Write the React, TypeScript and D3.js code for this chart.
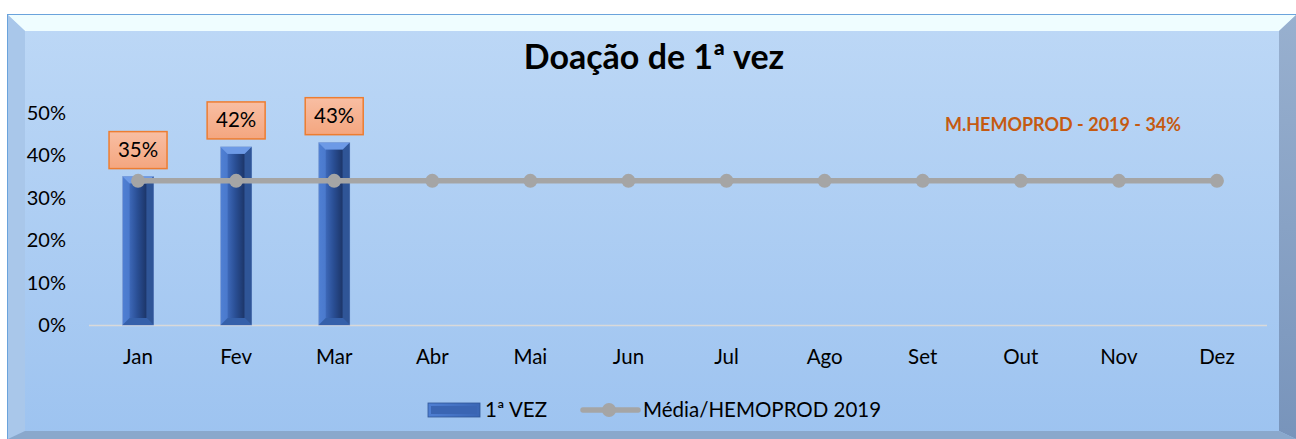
import { useEffect, useRef } from 'react'
import * as d3 from 'd3'

const months = ['Jan', 'Fev', 'Mar', 'Abr', 'Mai', 'Jun', 'Jul', 'Ago', 'Set', 'Out', 'Nov', 'Dez']
const firstTime = [35, 42, 43]
const hemoprodAvg = [34, 34, 34, 34, 34, 34, 34, 34, 34, 34, 34, 34]
const yTicks = [0, 10, 20, 30, 40, 50]

const W = 1296
const H = 439
const FONT = 'Lato, "Open Sans", sans-serif'

const App = () => {
  const svgRef = useRef<SVGSVGElement>(null)

  useEffect(() => {
    if (!svgRef.current) return
    const svg = d3.select(svgRef.current)
    svg.selectAll('*').remove()

    const defs = svg.append('defs')
    const face = defs.append('linearGradient').attr('id', 'face').attr('x1', 0).attr('y1', 0).attr('x2', 0).attr('y2', 1)
    face.append('stop').attr('offset', '0%').attr('stop-color', '#bdd8f6')
    face.append('stop').attr('offset', '100%').attr('stop-color', '#9dc3f0')

    const rightG = defs.append('linearGradient').attr('id', 'rightBev').attr('x1', 0).attr('y1', 0).attr('x2', 0).attr('y2', 1)
    rightG.append('stop').attr('offset', '0%').attr('stop-color', '#98b0cf')
    rightG.append('stop').attr('offset', '100%').attr('stop-color', '#7894bb')

    const barOuter = defs.append('linearGradient').attr('id', 'barOuter').attr('x1', 0).attr('y1', 0).attr('x2', 1).attr('y2', 0)
    barOuter.append('stop').attr('offset', '0%').attr('stop-color', '#4f7fd3')
    barOuter.append('stop').attr('offset', '100%').attr('stop-color', '#3a66b5')

    const barInner = defs.append('linearGradient').attr('id', 'barInner').attr('x1', 0).attr('y1', 0).attr('x2', 1).attr('y2', 0)
    barInner.append('stop').attr('offset', '0%').attr('stop-color', '#3d68b8')
    barInner.append('stop').attr('offset', '45%').attr('stop-color', '#2a4f95')
    barInner.append('stop').attr('offset', '100%').attr('stop-color', '#1c3568')

    const labelG = defs.append('linearGradient').attr('id', 'lbl').attr('x1', 0).attr('y1', 0).attr('x2', 0).attr('y2', 1)
    labelG.append('stop').attr('offset', '0%').attr('stop-color', '#f8bea3')
    labelG.append('stop').attr('offset', '100%').attr('stop-color', '#f4a67f')

    // frame with bevel
    svg.append('rect').attr('x', 0).attr('y', 0).attr('width', W).attr('height', H).attr('fill', '#ffffff')
    svg.append('rect').attr('x', 7.5).attr('y', 14.5).attr('width', W - 7).attr('height', H - 14)
      .attr('fill', 'url(#face)').attr('stroke', '#6aa3dc').attr('stroke-width', 1)
    const poly = (pts: number[][], fill: string) =>
      svg.append('polygon').attr('points', pts.map(p => p.join(',')).join(' ')).attr('fill', fill)
    poly([[8, 15], [1296, 15], [1279, 31], [25, 31]], '#effdff')
    poly([[8, 15], [25, 31], [25, 431], [8, 439]], '#a9c7ea')
    poly([[1296, 15], [1279, 31], [1279, 431], [1296, 439]], 'url(#rightBev)')
    poly([[8, 439], [25, 431], [1279, 431], [1296, 439]], '#8aa8cc')

    const x = d3.scaleBand().domain(months).range([89, 1266])
    const y = d3.scaleLinear().domain([0, 50]).range([325, 113])
    const cx = (m: string) => (x(m) ?? 0) + x.bandwidth() / 2

    // title
    svg.append('text').attr('x', 654).attr('y', 69).attr('text-anchor', 'middle')
      .attr('font-family', FONT).attr('font-weight', 'bold').attr('font-size', 34).attr('fill', '#000')
      .text('Doação de 1ª vez')

    // y axis labels
    svg.append('g').selectAll('text').data(yTicks).join('text')
      .attr('x', 66).attr('y', d => y(d) + 7).attr('text-anchor', 'end')
      .attr('font-family', FONT).attr('font-size', 20).attr('fill', '#000')
      .text(d => `${d}%`)

    // baseline
    svg.append('line').attr('x1', 89).attr('x2', 1267).attr('y1', 325.5).attr('y2', 325.5)
      .attr('stroke', '#d9d9d9').attr('stroke-width', 1.5)

    // month labels
    svg.append('g').selectAll('text').data(months).join('text')
      .attr('x', d => cx(d)).attr('y', 364).attr('text-anchor', 'middle')
      .attr('font-family', FONT).attr('font-size', 20.5).attr('fill', '#000')
      .text(d => d)

    // bars
    const bw = 31
    const bars = svg.append('g').selectAll('g').data(firstTime).join('g')
    bars.each(function (v, i) {
      const g = d3.select(this)
      const x0 = cx(months[i]) - bw / 2
      const top = y(v)
      const bot = y(0)
      const inset = 7
      g.append('rect').attr('x', x0).attr('y', top).attr('width', bw).attr('height', bot - top)
        .attr('fill', 'url(#barOuter)').attr('stroke', '#7f9fd6').attr('stroke-width', 0.8)
      // top bevel highlight
      g.append('polygon').attr('points', [[x0, top], [x0 + bw, top], [x0 + bw - inset, top + inset], [x0 + inset, top + inset]].map(p => p.join(',')).join(' '))
        .attr('fill', '#6d9ae6')
      // right bevel shade
      g.append('polygon').attr('points', [[x0 + bw, top], [x0 + bw, bot], [x0 + bw - inset, bot - inset], [x0 + bw - inset, top + inset]].map(p => p.join(',')).join(' '))
        .attr('fill', '#2f5597')
      // bottom bevel
      g.append('polygon').attr('points', [[x0, bot], [x0 + bw, bot], [x0 + bw - inset, bot - inset], [x0 + inset, bot - inset]].map(p => p.join(',')).join(' '))
        .attr('fill', '#3560aa')
      g.append('rect').attr('x', x0 + inset).attr('y', top + inset).attr('width', bw - 2 * inset).attr('height', bot - top - 2 * inset)
        .attr('fill', 'url(#barInner)')
    })

    // average line
    const line = d3.line<number>().x((_, i) => cx(months[i])).y(d => y(d))
    svg.append('path').datum(hemoprodAvg).attr('d', line).attr('fill', 'none')
      .attr('stroke', '#a5a5a5').attr('stroke-width', 5.5)
    svg.append('g').selectAll('circle').data(hemoprodAvg).join('circle')
      .attr('cx', (_, i) => cx(months[i])).attr('cy', d => y(d)).attr('r', 7).attr('fill', '#a5a5a5')

    // data labels
    const lw = 58
    const lh = 37
    const labels = svg.append('g').selectAll('g').data(firstTime).join('g')
    labels.append('rect')
      .attr('x', (_, i) => cx(months[i]) - lw / 2).attr('y', d => y(d) - 8 - lh)
      .attr('width', lw).attr('height', lh).attr('fill', 'url(#lbl)').attr('stroke', '#ed7d31').attr('stroke-width', 1.5)
    labels.append('text')
      .attr('x', (_, i) => cx(months[i])).attr('y', d => y(d) - 8 - lh / 2 + 7)
      .attr('text-anchor', 'middle').attr('font-family', FONT).attr('font-size', 20.5).attr('fill', '#000')
      .text(d => `${d}%`)

    // annotation
    svg.append('text').attr('x', 1063).attr('y', 131).attr('text-anchor', 'middle')
      .attr('font-family', FONT).attr('font-weight', 'bold').attr('font-size', 18).attr('fill', '#c55a11')
      .text('M.HEMOPROD - 2019 - 34%')

    // legend
    const lg = svg.append('g')
    lg.append('rect').attr('x', 428).attr('y', 403).attr('width', 52).attr('height', 14)
      .attr('fill', 'url(#barOuter)').attr('stroke', '#2f5597').attr('stroke-width', 0.8)
    lg.append('rect').attr('x', 431).attr('y', 406).attr('width', 46).attr('height', 8).attr('fill', '#3a65b3')
    lg.append('text').attr('x', 485).attr('y', 417).attr('font-family', FONT).attr('font-size', 20.5).attr('fill', '#000').text('1ª VEZ')
    lg.append('line').attr('x1', 583).attr('x2', 638).attr('y1', 410).attr('y2', 410)
      .attr('stroke', '#a5a5a5').attr('stroke-width', 5.5).attr('stroke-linecap', 'round')
    lg.append('circle').attr('cx', 609).attr('cy', 410).attr('r', 7).attr('fill', '#a5a5a5')
    lg.append('text').attr('x', 643).attr('y', 417).attr('font-family', FONT).attr('font-size', 20.5).attr('fill', '#000').text('Média/HEMOPROD 2019')
  }, [])

  return (
    <svg ref={svgRef} width={W} height={H} style={{ position: 'absolute', left: 0, top: 0, display: 'block' }} />
  )
}

export default App
